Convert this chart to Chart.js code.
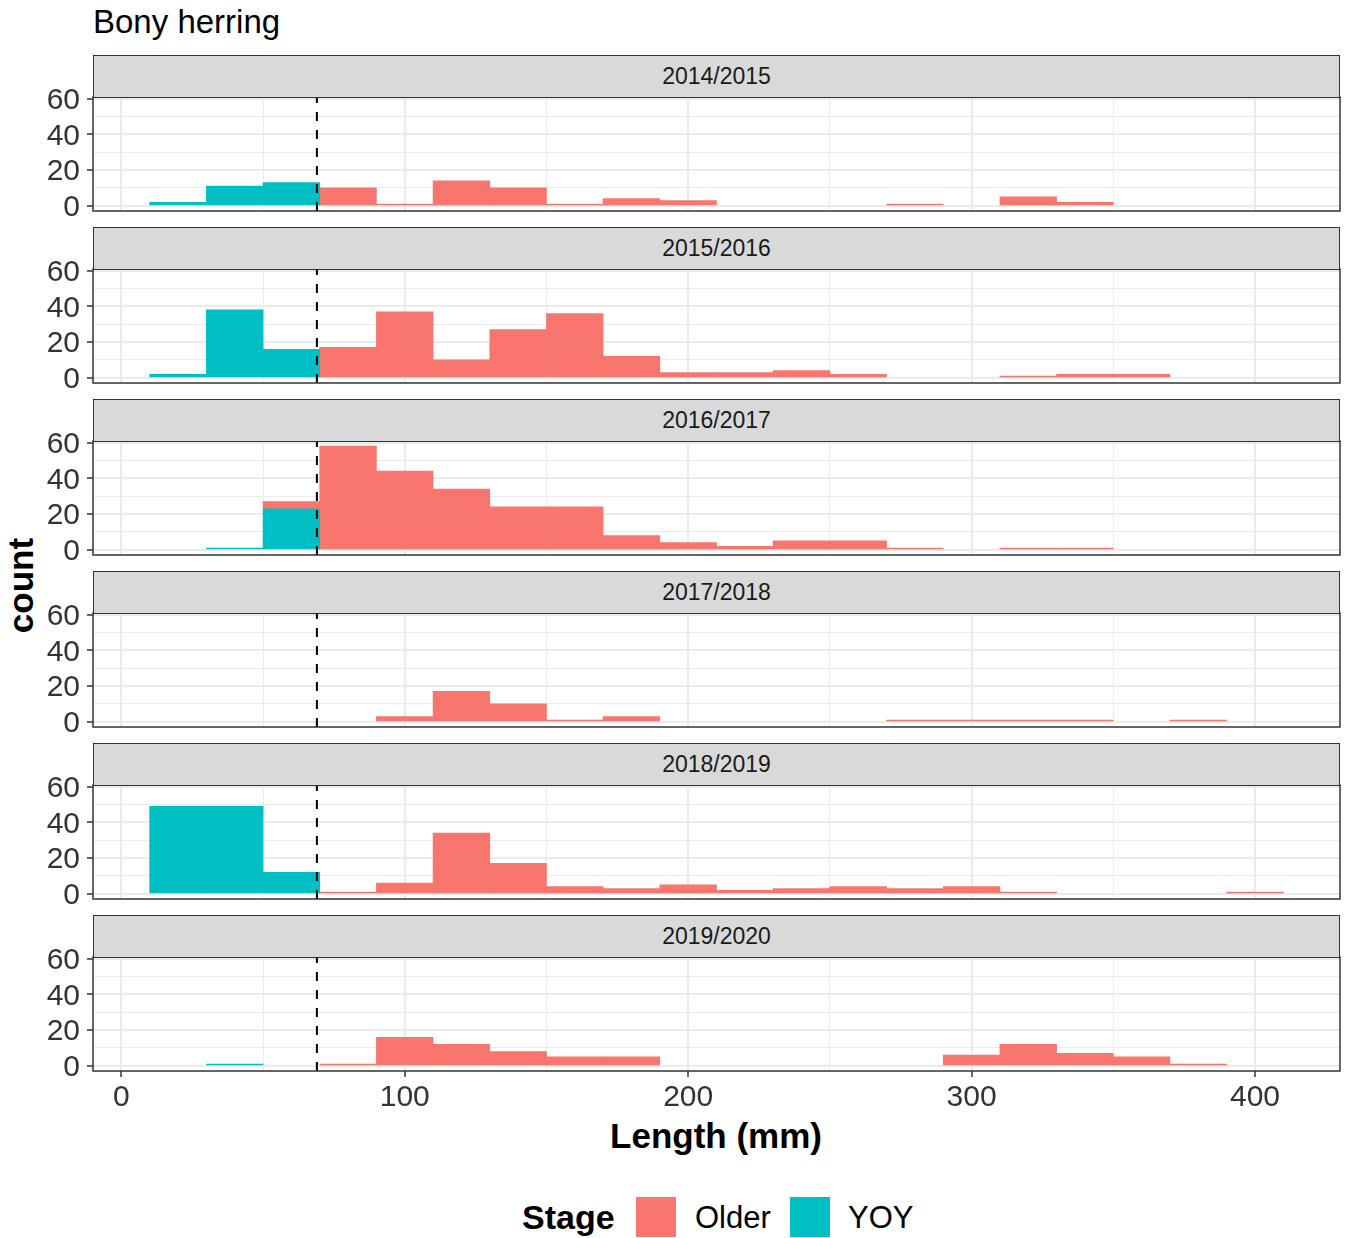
<!DOCTYPE html>
<html>
<head>
<meta charset="utf-8">
<script src="https://cdn.jsdelivr.net/npm/chart.js@4.4.1/dist/chart.umd.min.js"></script>
<style>
  body{margin:0;background:#fff;}
  #wrap{position:relative;width:1346px;height:1238px;overflow:hidden;font-family:'Liberation Sans',Arial,sans-serif;color:#000;}
  #wrap canvas{position:absolute;left:0;}
  .strip{position:absolute;left:93px;width:1247px;height:43px;background:#d9d9d9;border:1.5px solid #333;box-sizing:border-box;
         text-align:center;font-size:23px;line-height:40px;color:#1a1a1a;z-index:2;}
  .txt{position:absolute;line-height:1;white-space:nowrap;}
  .key{position:absolute;width:40px;height:40px;}
</style>
</head>
<body>
<div id="wrap">
  <div class="txt" style="left:93px;top:5px;font-size:33px;">Bony herring</div>
  <div class="txt" style="left:516px;width:400px;text-align:center;top:1118px;font-size:35px;font-weight:bold;">Length (mm)</div>
  <div class="txt" style="left:-30px;width:100px;text-align:center;top:568px;font-size:35px;font-weight:bold;transform:rotate(-90deg);">count</div>
  <div class="txt" style="left:522px;top:1200px;font-size:34px;font-weight:bold;">Stage</div>
  <div class="key" style="left:636px;top:1197px;background:#F8766D;"></div>
  <div class="txt" style="left:695px;top:1202px;font-size:31px;">Older</div>
  <div class="key" style="left:790px;top:1197px;background:#00BFC4;"></div>
  <div class="txt" style="left:848px;top:1202px;font-size:31px;">YOY</div>
</div>
<script>
// bin mid-points (20 mm bins from 10 to 410 mm)
var lengthBins=[20,40,60,80,100,120,140,160,180,200,220,240,260,280,300,320,340,360,380,400];
var seasons=['2014/2015','2015/2016','2016/2017','2017/2018','2018/2019','2019/2020'];

var older1415=[0,0,0,10,1,14,10,1,4,3,0,0,0,1,0,5,2,0,0,0];
var yoy1415  =[2,11,13,0,0,0,0,0,0,0,0,0,0,0,0,0,0,0,0,0];
var older1516=[0,0,0,17,37,10,27,36,12,3,3,4,2,0,0,1,2,2,0,0];
var yoy1516  =[2,38,16,0,0,0,0,0,0,0,0,0,0,0,0,0,0,0,0,0];
var older1617=[0,0,4,58,44,34,24,24,8,4,2,5,5,1,0,1,1,0,0,0];
var yoy1617  =[0,1,23,0,0,0,0,0,0,0,0,0,0,0,0,0,0,0,0,0];
var older1718=[0,0,0,0,3,17,10,1,3,0,0,0,0,1,1,1,1,0,1,0];
var yoy1718  =[0,0,0,0,0,0,0,0,0,0,0,0,0,0,0,0,0,0,0,0];
var older1819=[0,0,0,1,6,34,17,4,3,5,2,3,4,3,4,1,0,0,0,1];
var yoy1819  =[49,49,12,0,0,0,0,0,0,0,0,0,0,0,0,0,0,0,0,0];
var older1920=[0,0,0,1,16,12,8,5,5,0,0,0,0,0,6,12,7,5,1,0];
var yoy1920  =[0,1,0,0,0,0,0,0,0,0,0,0,0,0,0,0,0,0,0,0];

var olderSets=[older1415,older1516,older1617,older1718,older1819,older1920];
var yoySets=[yoy1415,yoy1516,yoy1617,yoy1718,yoy1819,yoy1920];

var xTicks=[0,50,100,150,200,250,300,350,400];
var yTicks=[0,10,20,30,40,50,60];
var yoyCutoff=69;

Chart.defaults.font.family="'Liberation Sans', Arial, sans-serif";

var plotTops=[97,269,441,613,785,957];
var PLOT_H=114, PAD_T=20, PAD_B=20, X_AXIS_H=46;

var framePlugin={
  id:'frame',
  afterDatasetsDraw:function(chart){
    var c=chart.ctx, a=chart.chartArea, x=chart.scales.x.getPixelForValue(yoyCutoff);
    c.save();
    c.strokeStyle='#000';c.lineWidth=2;c.setLineDash([9,9]);
    c.beginPath();c.moveTo(x,a.bottom);c.lineTo(x,a.top);c.stroke();
    c.setLineDash([]);
    c.strokeStyle='#333';c.lineWidth=1.5;
    c.strokeRect(a.left,a.top,a.right-a.left,a.bottom-a.top);
    c.restore();
  }
};

function major(v,step){return v%step===0;}
// empty bins draw nothing, as in a histogram
function points(counts){
  return lengthBins.map(function(x,j){return {x:x,y:counts[j]>0?counts[j]:null};});
}

var wrap=document.getElementById('wrap');
seasons.forEach(function(season,i){
  var last=i===seasons.length-1;
  var strip=document.createElement('div');
  strip.className='strip';
  strip.style.top=(plotTops[i]-42)+'px';
  strip.textContent=season;
  wrap.appendChild(strip);

  var cv=document.createElement('canvas');
  var h=PAD_T+PLOT_H+(last?X_AXIS_H+4:PAD_B);
  cv.width=1346;cv.height=h;
  cv.style.top=(plotTops[i]-PAD_T)+'px';
  wrap.appendChild(cv);

  new Chart(cv.getContext('2d'),{
    type:'bar',
    data:{datasets:[
      {label:'YOY',data:points(yoySets[i]),backgroundColor:'#00BFC4',borderWidth:0},
      {label:'Older',data:points(olderSets[i]),backgroundColor:'#F8766D',borderWidth:0}
    ]},
    options:{
      responsive:false,animation:false,devicePixelRatio:1,
      layout:{padding:{left:0,right:6,top:PAD_T,bottom:last?4:PAD_B}},
      datasets:{bar:{barPercentage:1,categoryPercentage:1}},
      plugins:{legend:{display:false},tooltip:{enabled:false}},
      scales:{
        x:{type:'linear',min:-10,max:430,stacked:true,offset:false,
          afterBuildTicks:function(a){a.ticks=xTicks.map(function(v){return {value:v};});},
          afterFit:function(a){a.height=last?X_AXIS_H:0;a.paddingLeft=0;a.paddingRight=0;},
          border:{display:false},
          grid:{offset:false,color:'#ebebeb',
            lineWidth:function(c){return c.tick&&major(c.tick.value,100)?2:1;},
            drawTicks:last,tickLength:6,tickWidth:1.5,
            tickColor:function(c){return c.tick&&major(c.tick.value,100)?'#333':'rgba(0,0,0,0)';}},
          ticks:{display:last,autoSkip:false,maxRotation:0,padding:3,color:'#333',font:{size:30},
            callback:function(v){return major(v,100)?v:'';}}
        },
        y:{min:-2.9,max:60.9,stacked:true,
          afterBuildTicks:function(a){a.ticks=yTicks.map(function(v){return {value:v};});},
          afterFit:function(a){a.width=93;a.paddingTop=0;a.paddingBottom=0;},
          border:{display:false},
          grid:{color:'#ebebeb',
            lineWidth:function(c){return c.tick&&major(c.tick.value,20)?2:1;},
            tickLength:6,tickWidth:1.5,
            tickColor:function(c){return c.tick&&major(c.tick.value,20)?'#333':'rgba(0,0,0,0)';}},
          ticks:{autoSkip:false,padding:7,labelOffset:2,color:'#333',font:{size:30},
            callback:function(v){return major(v,20)?v:'';}}
        }
      }
    },
    plugins:[framePlugin]
  });
});
</script>
</body>
</html>
